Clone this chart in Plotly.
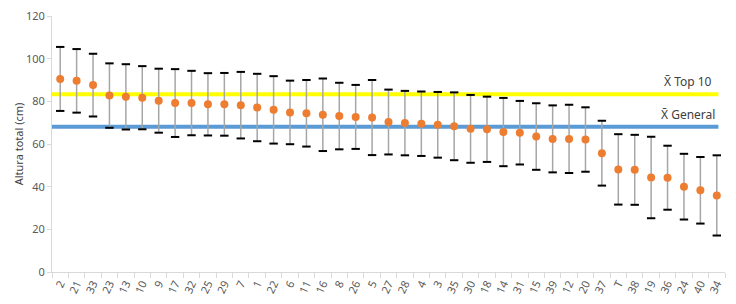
import plotly.graph_objects as go

categories = ["2", "21", "33", "23", "13", "10", "9", "17", "32", "25", "29", "7", "1", "22",
              "6", "11", "16", "8", "26", "5", "27", "28", "4", "3", "35", "30", "18", "14",
              "31", "15", "39", "12", "20", "37", "T", "38", "19", "36", "24", "40", "34"]
means = [90.5, 89.6, 87.6, 82.7, 82.1, 81.7, 80.3, 79.2, 79.2, 78.6, 78.6, 78.2, 77.1, 76.0,
         74.8, 74.4, 73.7, 73.1, 72.7, 72.4, 70.3, 69.8, 69.5, 69.0, 68.3, 67.1, 66.9, 65.6,
         65.3, 63.5, 62.4, 62.4, 62.1, 55.7, 48.1, 47.9, 44.3, 44.2, 40.0, 38.3, 35.9]
sds = [15.0, 14.9, 14.7, 15.1, 15.3, 14.8, 15.0, 15.9, 15.1, 14.6, 14.7, 15.6, 15.8, 15.8,
       14.9, 15.6, 17.0, 15.6, 15.0, 17.6, 15.2, 15.1, 15.1, 15.4, 15.9, 15.9, 15.3, 16.0,
       14.9, 15.6, 15.7, 16.0, 15.1, 15.2, 16.5, 16.4, 19.1, 15.0, 15.4, 15.6, 18.8]
mean_top10 = 83.3
mean_general = 68.1
y_ticks = [0, 20, 40, 60, 80, 100, 120]

idx = list(range(len(categories)))
upper = [m + s for m, s in zip(means, sds)]
lower = [m - s for m, s in zip(means, sds)]

fig = go.Figure()

# reference lines
fig.add_trace(go.Scatter(x=[-0.5, 40.1], y=[mean_top10, mean_top10], mode="lines",
                         line=dict(color="#FFFF00", width=4), hoverinfo="skip"))
fig.add_trace(go.Scatter(x=[-0.5, 40.1], y=[mean_general, mean_general], mode="lines",
                         line=dict(color="#5B9BD5", width=4), hoverinfo="skip"))

# error stems
fig.add_trace(go.Scatter(x=idx, y=means, mode="markers",
                         marker=dict(size=0.1, color="rgba(0,0,0,0)"),
                         error_y=dict(type="data", array=sds, visible=True,
                                      color="#A6A6A6", thickness=1.5, width=0)))
# caps
fig.add_trace(go.Scatter(x=idx + idx, y=upper + lower, mode="markers",
                         marker=dict(symbol="line-ew", size=6,
                                     line=dict(color="#000000", width=2))))
# means
fig.add_trace(go.Scatter(x=idx, y=means, mode="markers",
                         marker=dict(color="#ED7D31", size=8)))

fig.add_annotation(x=0.983, xref="paper", y=89.2, yref="y", text="X̄ Top 10",
                   showarrow=False, xanchor="right",
                   font=dict(size=12, color="#404040", family="Noto Sans"))
fig.add_annotation(x=0.988, xref="paper", y=73.9, yref="y", text="X̄ General",
                   showarrow=False, xanchor="right",
                   font=dict(size=12, color="#404040", family="Noto Sans"))

# page body has an 8px default margin: shift margins so the plot lands where the reference has it
fig.update_layout(
    width=736, height=304,
    margin=dict(l=44, r=19, t=8, b=40),
    paper_bgcolor="white", plot_bgcolor="white",
    showlegend=False,
    font=dict(family="Noto Sans", size=11, color="#595959"),
    xaxis=dict(range=[-0.5, 40.5], tickmode="array", tickvals=idx, ticktext=categories,
               tickangle=-65, showgrid=False, zeroline=False, showline=True, automargin=False,
               linecolor="#D9D9D9", linewidth=1, ticks="",
               tickfont=dict(size=11, color="#595959"),
               minor=dict(tickmode="array", tickvals=[i - 0.5 for i in range(len(categories) + 1)],
                          ticks="outside", ticklen=5, tickcolor="#D9D9D9", showgrid=False)),
    yaxis=dict(range=[0, 120], tickmode="array", tickvals=y_ticks, showgrid=False,
               zeroline=False, showline=True, linecolor="#D9D9D9", linewidth=1, automargin=False,
               ticks="outside", ticklen=4, tickcolor="#D9D9D9", ticklabeloverflow="allow",
               title=dict(text="Altura total (cm)", font=dict(size=11, color="#404040"), standoff=0),
               tickfont=dict(size=11, color="#595959")),
)

fig.write_html("out.html")
